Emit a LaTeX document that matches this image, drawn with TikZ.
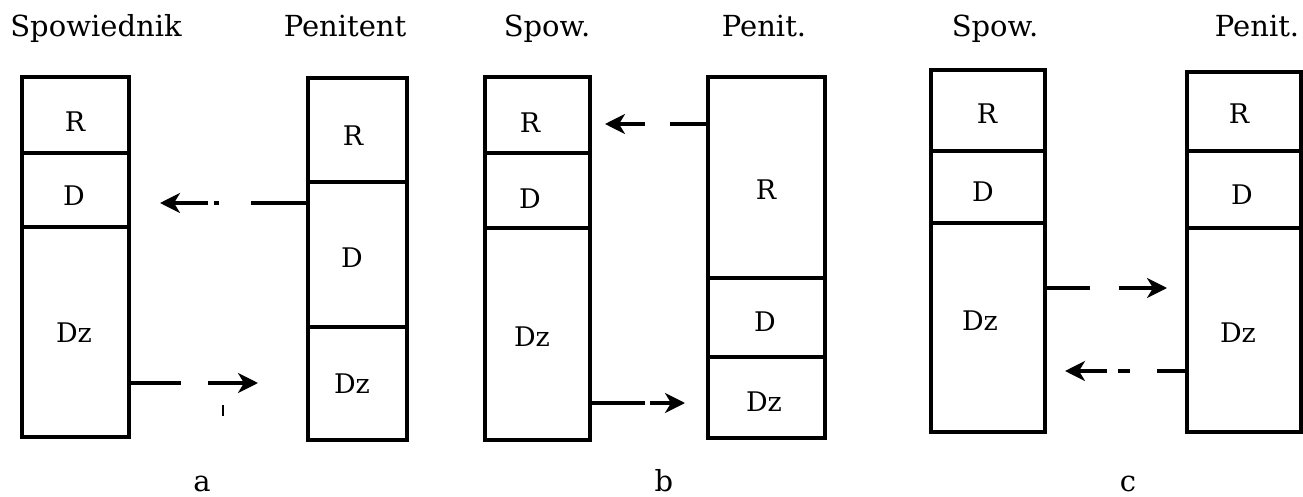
\documentclass[tikz,border=0pt]{standalone}
\usepackage{fontspec}
\setmainfont{DejaVu Serif}
\usetikzlibrary{arrows.meta}
\newcommand\MySec[5]{\node[sec, minimum width=#4pt-#2pt, minimum height=#5pt-#3pt] (#1) at ({(#2+#4)/2},{(#3+#5)/2}) {};}
\begin{document}
\begin{tikzpicture}[x=1pt,y=-1pt,
  sec/.style={draw, line width=3.2pt, inner sep=0pt, outer sep=0pt},
  lbl/.style={font=\fontsize{27}{32}\selectfont, inner sep=0pt},
  ttl/.style={font=\fontsize{29}{34}\selectfont, inner sep=0pt, anchor=base},
  conn/.style={line width=3.2pt, -{Stealth[length=20pt,width=20pt,inset=6pt]}},
]
\useasboundingbox (0,0) rectangle (1303,497);

% titles
\node[ttl] (tSa) at (96,37) {Spowiednik};
\node[ttl] (tPa) at (345,37) {Penitent};
\node[ttl] (tSb) at (547,37) {Spow.};
\node[ttl] (tPb) at (764,37) {Penit.};
\node[ttl] (tSc) at (995,37) {Spow.};
\node[ttl] (tPc) at (1257,37) {Penit.};

% panel a
\MySec{Sa1}{22}{77}{129}{153}
\MySec{Sa2}{22}{153}{129}{227}
\MySec{Sa3}{22}{227}{129}{437}
\node[lbl] (lSa1) at (75,122) {R};
\node[lbl] (lSa2) at (74,196) {D};
\node[lbl] (lSa3) at (74,333) {Dz};
\MySec{Pa1}{308}{78}{407}{182}
\MySec{Pa2}{308}{182}{407}{327}
\MySec{Pa3}{308}{327}{407}{440}
\node[lbl] (lPa1) at (353,136) {R};
\node[lbl] (lPa2) at (352,258) {D};
\node[lbl] (lPa3) at (352,384) {Dz};
\coordinate (ea1) at (160,203);
\coordinate (ea2) at (258,383);
\draw[conn, dash pattern=on 57pt off 32pt on 5pt off 6pt on 200pt] (Pa2.west |- ea1) -- (ea1);
\draw[conn, dash pattern=on 52pt off 27pt on 200pt] (Sa3.east |- ea2) -- (ea2);
\draw[line width=2pt] (223,405) -- (223,416);
\node[ttl] (la) at (202,491) {a};

% panel b
\MySec{Sb1}{485}{77}{590}{153}
\MySec{Sb2}{485}{153}{590}{228}
\MySec{Sb3}{485}{228}{590}{440}
\node[lbl] (lSb1) at (530,123) {R};
\node[lbl] (lSb2) at (530,199) {D};
\node[lbl] (lSb3) at (532,337) {Dz};
\MySec{Pb1}{708}{77}{825}{278}
\MySec{Pb2}{708}{278}{825}{357}
\MySec{Pb3}{708}{357}{825}{438}
\node[lbl] (lPb1) at (766,190) {R};
\node[lbl] (lPb2) at (765,322) {D};
\node[lbl] (lPb3) at (764,402) {Dz};
\coordinate (eb1) at (605,124);
\coordinate (eb2) at (685,403);
\draw[conn, dash pattern=on 38pt off 25pt on 200pt] (Pb1.west |- eb1) -- (eb1);
\draw[conn, dash pattern=on 55pt off 5pt on 200pt] (Sb3.east |- eb2) -- (eb2);
\node[ttl] (lb) at (664,491) {b};

% panel c
\MySec{Sc1}{931}{70}{1045}{151}
\MySec{Sc2}{931}{151}{1045}{223}
\MySec{Sc3}{931}{223}{1045}{432}
\node[lbl] (lSc1) at (987,114) {R};
\node[lbl] (lSc2) at (983,192) {D};
\node[lbl] (lSc3) at (980,321) {Dz};
\MySec{Pc1}{1187}{72}{1301}{151}
\MySec{Pc2}{1187}{151}{1301}{228}
\MySec{Pc3}{1187}{228}{1301}{432}
\node[lbl] (lPc1) at (1239,114) {R};
\node[lbl] (lPc2) at (1242,195) {D};
\node[lbl] (lPc3) at (1238,333) {Dz};
\coordinate (ec1) at (1167,288);
\coordinate (ec2) at (1065,371);
\draw[conn, dash pattern=on 45pt off 29pt on 200pt] (Sc3.east |- ec1) -- (ec1);
\draw[conn, dash pattern=on 30pt off 27pt on 12pt off 11pt on 200pt] (Pc3.west |- ec2) -- (ec2);
\node[ttl] (lc) at (1128,491) {c};
\end{tikzpicture}
\end{document}
